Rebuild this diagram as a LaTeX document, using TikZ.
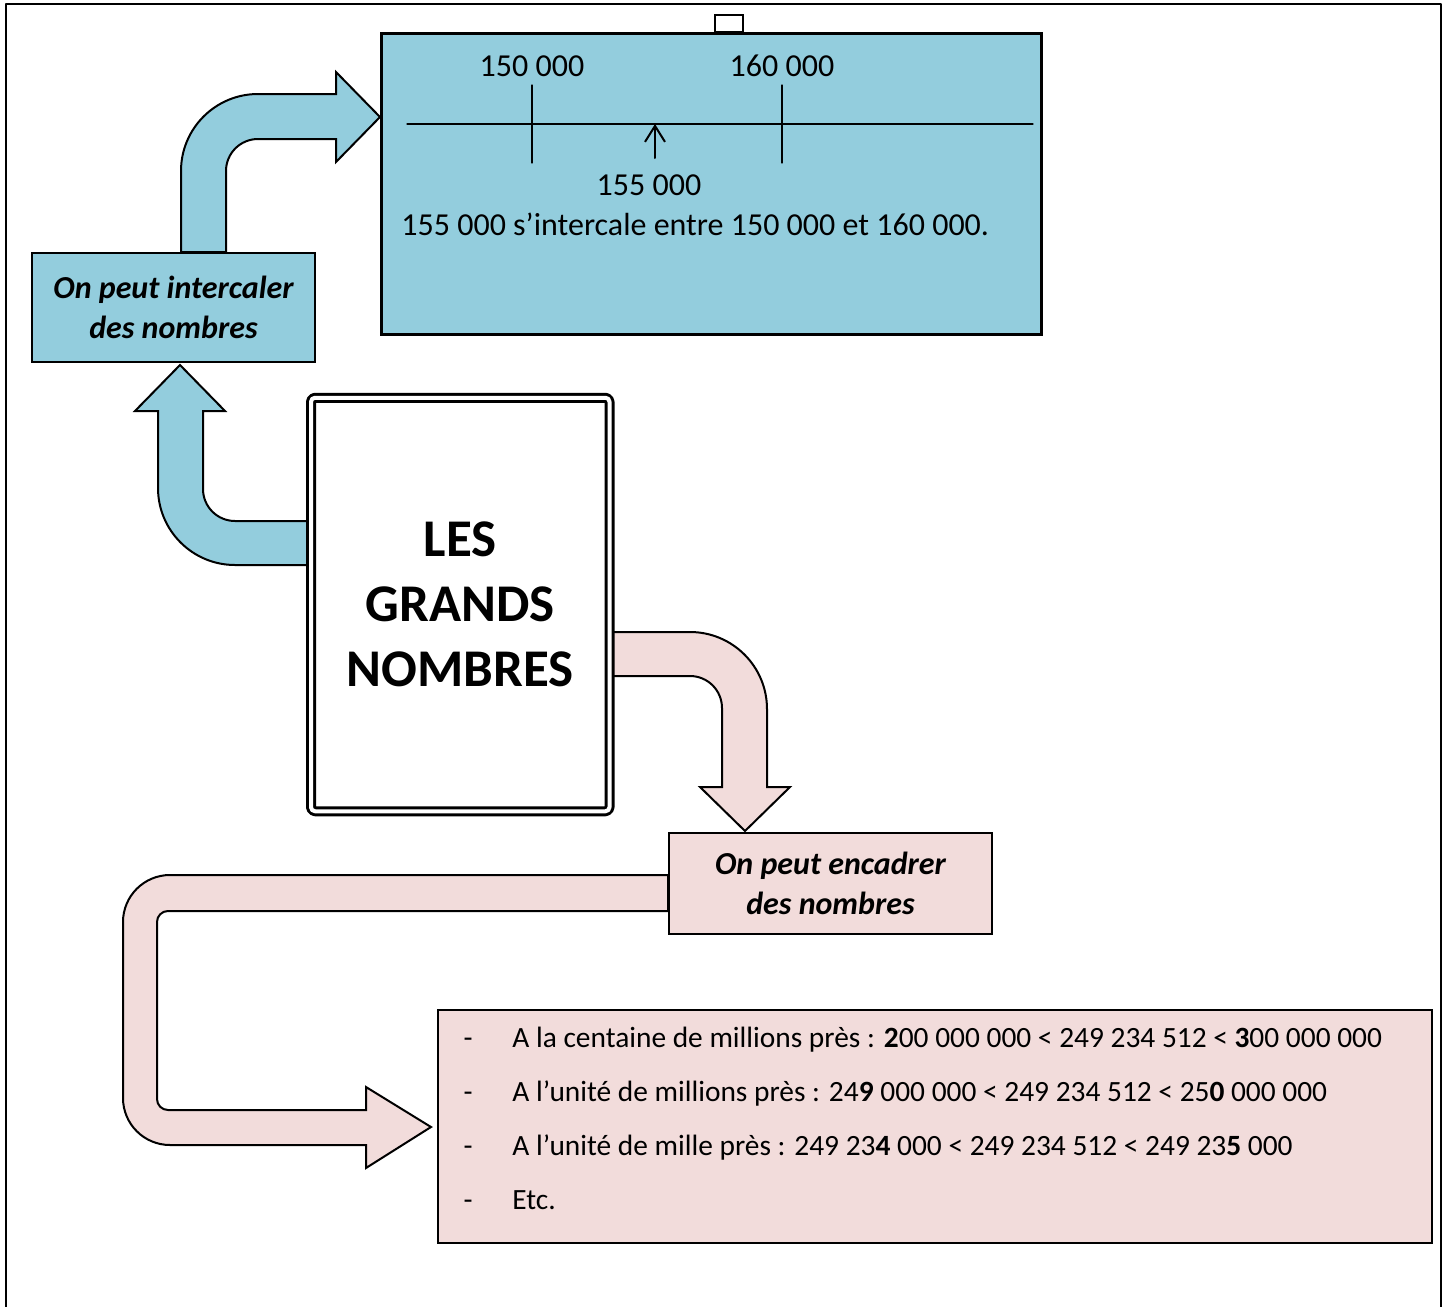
\documentclass[tikz,border=0pt]{standalone}
\usepackage{fontspec}
\setmainfont{Carlito}
\usetikzlibrary{arrows.meta}
\definecolor{bleu}{HTML}{93CDDD}
\definecolor{rose}{HTML}{F2DCDB}
\begin{document}
\begin{tikzpicture}[line join=round, line cap=round, x=.5pt, y=-.5pt,
	boite/.style={draw, line width=1.3pt, inner sep=0pt, line join=miter},
	fleche/.style={draw, line width=1pt, line join=miter},
	texte/.style={font=\fontsize{16}{19.5}\selectfont, inner sep=0pt},
	item/.style={font=\fontsize{14.7}{18}\selectfont, inner sep=0pt},
	etiq/.style={font=\fontsize{16}{20}\selectfont\bfseries\itshape, align=center}]
	\useasboundingbox (0,0) rectangle (1447,1307);
	\draw[line width=1pt] (6,1307)--(6,4)--(1441,4)--(1441,1307);%cadre
	%flèches bleues
	\path[fleche, fill=bleu] (181,252)--(181,171) arc[start angle=180,end angle=270,radius=77]
		--(336,94)--(336,72)--(380,117)--(336,162)--(336,139)--(258,139)
		arc[start angle=270,end angle=180,radius=32]--(226,252)--cycle;
	\path[fleche, fill=bleu] (313,521)--(235,521) arc[start angle=90,end angle=180,radius=32]
		--(203,411)--(225,411)--(180,365)--(135,411)--(158,411)--(158,488)
		arc[start angle=180,end angle=90,radius=77]--(313,565)--cycle;
	%flèches roses
	\path[fleche, fill=rose] (611,632)--(690,632) arc[start angle=-90,end angle=0,radius=77]
		--(767,787)--(790,787)--(745,831)--(700,787)--(722,787)--(722,708)
		arc[start angle=0,end angle=-90,radius=32]--(611,676)--cycle;
	\path[fleche, fill=rose] (668,875)--(170,875) arc[start angle=270,end angle=180,radius=47]
		--(123,1098) arc[start angle=180,end angle=90,radius=47]
		--(366,1145)--(366,1168)--(431,1127)--(366,1087)--(366,1110)--(168,1110)
		arc[start angle=90,end angle=180,radius=11]--(157,922)
		arc[start angle=180,end angle=270,radius=11]--(668,911)--cycle;
	%boites
	\node[boite, line width=.8pt, fill=white, minimum width=14pt, minimum height=8.5pt] (onglet) at (729,23.5) {};
	\node[boite, fill=bleu, minimum width=330pt, minimum height=150.5pt] (droite) at (711.5,184) {};
	\node[boite, fill=bleu, etiq, minimum width=141.5pt, minimum height=54.5pt] (inter) at (173.5,307.5) {On peut intercaler\\des nombres};
	\node[draw, double, line width=1.5pt, double distance=2pt, rounded corners=2pt, fill=white,
		inner sep=0pt, minimum width=149.25pt, minimum height=206.75pt, align=center,
		font=\fontsize{26.5}{32.5}\selectfont\bfseries] (grands) at (460.25,604.5) {LES\\GRANDS\\NOMBRES};
	\node[boite, fill=rose, etiq, minimum width=161.5pt, minimum height=50.5pt] (encadr) at (830.5,883.5) {On peut encadrer\\des nombres};
	\node[boite, fill=rose, minimum width=497pt, minimum height=116.5pt] (liste) at (935,1126.5) {};
	%droite graduée
	\draw[line width=.6pt] (407,124) coordinate (g)--(1033,124) coordinate (d);
	\draw[line width=.6pt] (532,85)--(532,163) (782,85)--(782,163);
	\coordinate (pied) at (655,158);
	\coordinate (pointe) at (655,124);
	\draw[line width=1pt, -{Straight Barb[length=8pt,width=10pt]}] (pied)--(pointe);
	\node[texte, anchor=base] (n150) at (532,76) {150 000};
	\node[texte, anchor=base] (n160) at (782,76) {160 000};
	\node[texte, anchor=base] (n155) at (649,195) {155 000};
	\node[texte, anchor=base west] (phrase) at (401,235) {155 000 s’intercale entre 150 000 et 160 000.};
	%encadrements
	\foreach \y in {1047,1101,1155,1209}
		\node[item, anchor=base] (t\y) at (468,\y) {-};
	\node[item, anchor=base west] (l1) at (512,1047) {A la centaine de millions près : \textbf{2}00 000 000 < 249 234 512 < \textbf{3}00 000 000};
	\node[item, anchor=base west] (l2) at (512,1101) {A l’unité de millions près : 24\textbf{9} 000 000 < 249 234 512 < 25\textbf{0} 000 000};
	\node[item, anchor=base west] (l3) at (512,1155) {A l’unité de mille près : 249 23\textbf{4} 000 < 249 234 512 < 249 23\textbf{5} 000};
	\node[item, anchor=base west] (l4) at (512,1209) {Etc.};
\end{tikzpicture}
\end{document}
